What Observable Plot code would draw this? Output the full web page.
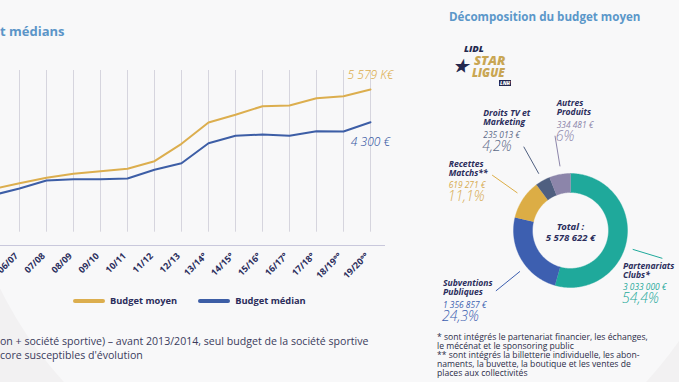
<!DOCTYPE html>
<html><head><meta charset="utf-8">
<script src="https://cdn.jsdelivr.net/npm/d3@7"></script>
<script src="https://cdn.jsdelivr.net/npm/@observablehq/plot@0.6"></script>
<style>
html,body{margin:0;padding:0;width:679px;height:382px;overflow:hidden;background:#f2f1f2;font-family:"Open Sans",sans-serif;}
#root{position:relative;width:679px;height:382px;overflow:hidden;}
.abs{position:absolute;white-space:nowrap;}
.ln{position:absolute;white-space:nowrap;font-style:italic;line-height:9px;height:9px;}
.n{font-weight:700;color:#2b2d5c;font-size:8.6px;}
.v{font-size:8.4px;font-weight:400;}
.p{font-size:14px;font-weight:300;line-height:11px;height:11px;}
.fn{position:absolute;white-space:nowrap;font-size:8.6px;color:#2b2c48;line-height:9px;height:9px;}
</style></head>
<body><div id="root">
<div class="abs" style="left:-40px;top:-280px;width:790px;height:790px;border-radius:50%;background:#f8f8f9;"></div>
<div class="abs" style="left:0;top:22px;font-size:13px;font-weight:700;color:#5b95c8;">t médians</div>
<div class="abs" style="left:449px;top:9px;font-size:11.6px;font-weight:700;color:#5b97c9;">Décomposition du budget moyen</div>
<div id="line" class="abs" style="left:-40px;top:60px;"></div>
<div id="donut" class="abs" style="left:430px;top:110px;"></div>
<div id="legend" class="abs" style="left:73px;top:293px;font-size:9.3px;font-weight:700;color:#2b2d5c;"></div>
<div class="abs" style="left:0;top:335px;font-size:10.6px;color:#3a3b5c;line-height:13.5px;">on + société sportive) – avant 2013/2014, seul budget de la société sportive<br>core susceptibles d'évolution</div>
<div id="foot"></div>
<div class="abs" style="left:453px;top:43px;width:62px;height:46px;font-style:italic;font-weight:800;">
  <span class="abs" style="left:0px;top:14px;font-size:17px;line-height:17px;color:#23284f;">★</span>
  <span class="abs" style="left:11px;top:1px;font-size:9.5px;line-height:10px;color:#23284f;">LIDL</span>
  <span class="abs" style="left:21px;top:11px;font-size:13px;line-height:13px;color:#c9a653;">STAR</span>
  <span class="abs" style="left:19px;top:24px;font-size:11.5px;line-height:12px;color:#c9a653;">LIGUE</span>
  <span class="abs" style="left:46px;top:37px;font-size:5px;line-height:6px;color:#fff;background:#23284f;padding:0 1px;">LNH</span>
</div>
<div id="labels"></div>
</div>
<script>
// ---- line chart data ----
const seasons = ["05/06","06/07","07/08","08/09","09/10","10/11","11/12","12/13","13/14°","14/15°","15/16°","16/17°","17/18°","18/19°°","19/20°°"];
const budgetMoyen = [1680,1916,2127,2283,2385,2479,2776,3456,4289,4590,4927,4954,5239,5318,5579];
const budgetMedian = [1443,1709,2021,2072,2072,2100,2440,2698,3480,3769,3820,3769,3949,3937,4300];
const seriesNames = ["Budget moyen","Budget médian"];
const seriesColors = ["#dcae4e","#3d5ea6"];
const endLabels = ["5 579 K€","4 300 €"];

// ---- donut data ----
const sliceNames = ["Partenariats Clubs*","Subventions Publiques","Recettes Matchs**","Droits TV et Marketing","Autres Produits"];
const sliceValues = [3033000,1356857,619271,235013,334481];
const sliceValueLabels = ["3 033 000 €","1 356 857 €","619 271 €","235 013 €","334 481 €"];
const slicePctLabels = ["54,4%","24,3%","11,1%","4,2%","6%"];
const sliceColors = ["#1fa99b","#3d5fb0","#dcad45","#4f5f80","#8c85aa"];
const totalLabel = "5 578 622 €";
const footLines = ["* sont intégrés le partenariat financier, les échanges,","le mécénat et le sponsoring public","** sont intégrés la billetterie individuelle, les abon-","naments, la buvette, la boutique et les ventes de","places aux collectivités"];

// ---- line chart ----
const rows = [];
seasons.forEach((s,i)=>{
  rows.push({season:s, serie:seriesNames[0], v:budgetMoyen[i]});
  rows.push({season:s, serie:seriesNames[1], v:budgetMedian[i]});
});
const gridRows = seasons.slice(1).map(s=>({season:s, lo:0, hi:6322}));
const last = seasons[seasons.length-1];
const lineChart = Plot.plot({
  width:440, height:215, marginLeft:27.4, marginRight:25, marginTop:10, marginBottom:30,
  style:{background:"transparent", overflow:"visible"},
  x:{type:"point", domain:seasons, padding:0},
  y:{domain:[-520,6322], axis:null},
  color:{domain:seriesNames, range:seriesColors},
  marks:[
    Plot.ruleX(gridRows, {x:"season", y1:"lo", y2:"hi", stroke:"#d6d5de", strokeWidth:1}),
    Plot.ruleY([-520], {stroke:"#c9c8dc", strokeWidth:1, insetLeft:-20, insetRight:-10}),
    Plot.line(rows, {x:"season", y:"v", z:"serie", stroke:"serie", strokeWidth:2}),
    Plot.text([{season:last, v:budgetMoyen[budgetMoyen.length-1], t:endLabels[0]}], {x:"season", y:"v", text:"t", dy:-14, fill:seriesColors[0], fontSize:12, fontStyle:"italic", fontWeight:300, textAnchor:"middle"}),
    Plot.text([{season:last, v:budgetMedian[budgetMedian.length-1], t:endLabels[1]}], {x:"season", y:"v", text:"t", dy:20, fill:seriesColors[1], fontSize:12, fontStyle:"italic", fontWeight:300, textAnchor:"middle"}),
    Plot.axisX({ticks:seasons.slice(1), tickSize:0, tickPadding:9, dx:-3, tickRotate:-45, fontSize:9, fontWeight:700, fill:"#2b2d5c", label:null})
  ]
});
document.getElementById("line").appendChild(lineChart);

// legend
const lg = document.getElementById("legend");
lg.innerHTML = seriesNames.map((n,i)=>`<span style="display:inline-block;width:32px;height:4px;border-radius:2px;background:${seriesColors[i]};vertical-align:middle;margin-right:5px;"></span><span style="vertical-align:middle;margin-right:21px;">${n}</span>`).join("");

// footnote lines
const foot = document.getElementById("foot");
footLines.forEach((t,i)=>{
  const d = document.createElement("div");
  d.className = "fn"; d.style.left = "437px"; d.style.top = (332.5 + i*9.15) + "px";
  d.textContent = t; foot.appendChild(d);
});

// ---- donut ----
const R = 57, r = 38;
const total = d3.sum(sliceValues);
const polys = [];
const mids = [];
let acc = 0;
sliceNames.forEach((n,i)=>{
  const a0 = acc/total*2*Math.PI; acc += sliceValues[i]; const a1 = acc/total*2*Math.PI;
  mids.push((a0+a1)/2);
  const steps = Math.max(2, Math.ceil((a1-a0)/0.02));
  for (let k=0;k<=steps;k++){const a=a0+(a1-a0)*k/steps; polys.push({name:n,x:R*Math.sin(a),y:R*Math.cos(a)});}
  for (let k=steps;k>=0;k--){const a=a0+(a1-a0)*k/steps; polys.push({name:n,x:r*Math.sin(a),y:r*Math.cos(a)});}
});
// label layout: leader angle shift (deg), label first-line centre
const labelLayout = [
  {shift:9, left:623, top:266},
  {shift:-8.5, left:443, top:283.3},
  {shift:2, left:448.7, top:164},
  {shift:0, left:483.3, top:113.3},
  {shift:1.5, left:556.7, top:103.3}
];
const leaders = sliceNames.map((n,i)=>{
  const a = mids[i] + labelLayout[i].shift*Math.PI/180;
  return {name:n, x1:65*Math.sin(a), y1:65*Math.cos(a), x2:96*Math.sin(a), y2:96*Math.cos(a)};
});
const donut = Plot.plot({
  width:249, height:230, margin:0,
  style:{background:"transparent", overflow:"visible"},
  x:{domain:[-140,109], axis:null},
  y:{domain:[-110,120], axis:null},
  color:{domain:sliceNames, range:sliceColors},
  marks:[
    Plot.line(polys, {x:"x", y:"y", z:"name", fill:"name", stroke:"name", strokeWidth:0.4}),
    Plot.link(leaders, {x1:"x1", y1:"y1", x2:"x2", y2:"y2", stroke:"name", strokeWidth:1}),
    Plot.text(["Total :", totalLabel], {x:0, y:(d,i)=>i===0?4:-7, text:d=>d, fontSize:9.5, fontWeight:700, fontStyle:"italic", fill:"#2b2d5c"})
  ]
});
document.getElementById("donut").appendChild(donut);

// labels
const labelsDiv = document.getElementById("labels");
const nameLines = [["Partenariats","Clubs*"],["Subventions","Publiques"],["Recettes","Matchs**"],["Droits TV et","Marketing"],["Autres","Produits"]];
const textColors = ["#1fa99b","#3d5fb0","#d7ab50","#5d6a88","#8c85aa"];
function addLine(cls, text, left, cy, h, color){
  const d = document.createElement("div");
  d.className = "ln " + cls; d.textContent = text;
  d.style.left = left + "px"; d.style.top = (cy - h/2) + "px";
  if (color) d.style.color = color;
  labelsDiv.appendChild(d);
}
sliceNames.forEach((n,i)=>{
  const L = labelLayout[i];
  addLine("n", nameLines[i][0], L.left, L.top, 9);
  addLine("n", nameLines[i][1], L.left, L.top + 9.3, 9);
  addLine("v", sliceValueLabels[i], L.left, L.top + 20.7, 9, textColors[i]);
  addLine("p", slicePctLabels[i], L.left - 1, L.top + 31.8, 11, textColors[i]);
});
</script>
</body></html>
